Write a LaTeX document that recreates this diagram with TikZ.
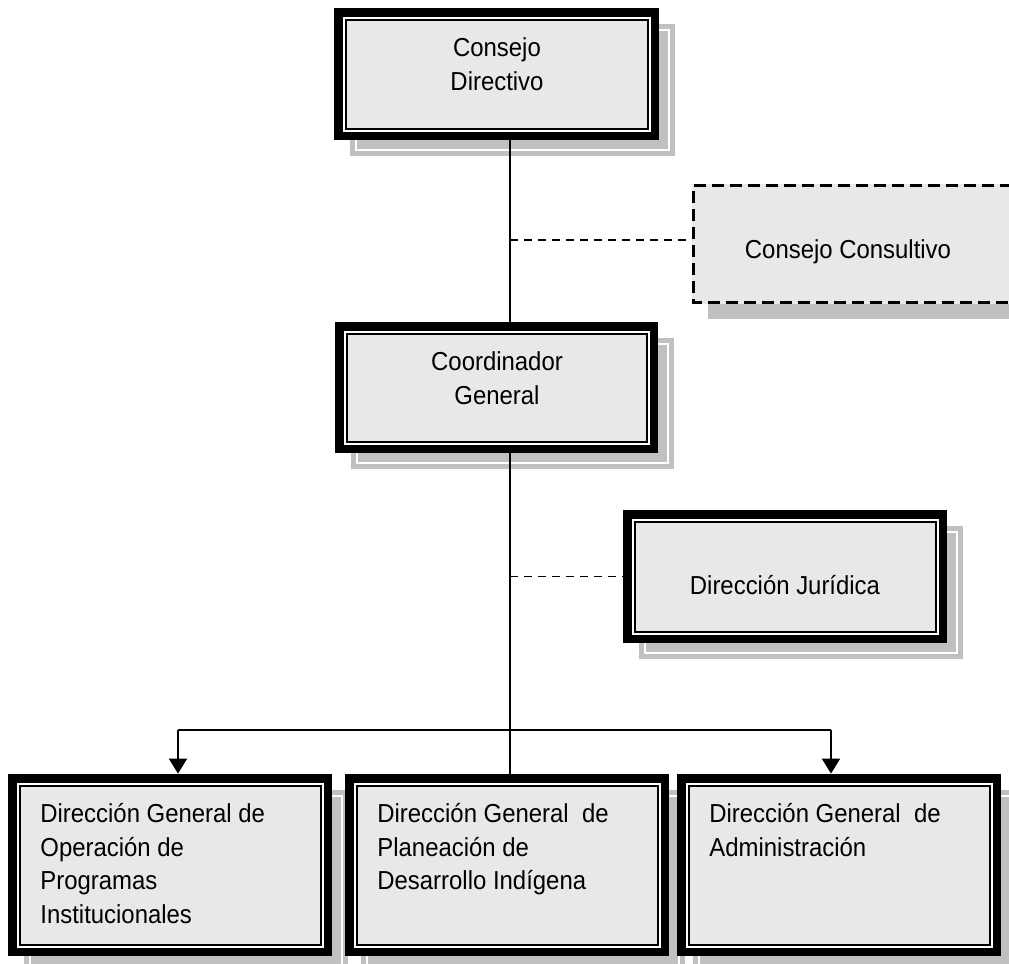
\documentclass[tikz,border=0pt]{standalone}
\usepackage{fontspec}
\setmainfont{Liberation Sans}[FakeStretch=0.92]
\usetikzlibrary{arrows.meta,fit}
\definecolor{boxfill}{HTML}{E8E8E8}
\definecolor{shadowgray}{HTML}{C0C0C0}
\tikzset{
  txt/.style={font=\fontsize{13}{16.75}\selectfont, inner sep=0pt, text=black},
  frame/.style={fit={#1}, inner sep=0pt, draw=none},
  link/.style={line width=1pt, draw=black},
  dashlink/.style={line width=0.75pt, draw=black, dash pattern=on 4pt off 3pt},
  arrowlink/.style={line width=1pt, draw=black, -{Triangle[width=9pt,length=7.5pt]}},
}
% shadow of a box: x1 y1 x2 y2
\newcommand\boxshadow[4]{%
  \fill[shadowgray] (#1+16,#2+16) rectangle (#3+16,#4+16);
  \draw[white,line width=0.6pt] (#1+22,#2+22) rectangle (#3+10,#4+10);
}
% framed box: name x1 y1 x2 y2
\newcommand\framedbox[5]{%
  \fill[black] (#2,#3) rectangle (#4,#5);
  \fill[white] (#2+8.5,#3+8.5) rectangle (#4-8.5,#5-8.5);
  \fill[black] (#2+10.5,#3+10.5) rectangle (#4-10.5,#5-10.5);
  \fill[boxfill] (#2+12.5,#3+12.5) rectangle (#4-12.5,#5-12.5);
  \node[frame={(#2,#3) (#4,#5)}] (#1) {};
}
\begin{document}
\begin{tikzpicture}[x=0.5pt,y=-0.5pt]
\useasboundingbox (0,0) rectangle (1009,964);
\clip (0,0) rectangle (1009,964);
\fill[white] (0,0) rectangle (1009,964);

% shadows
\boxshadow{334}{8}{659}{140}
\boxshadow{335}{322}{658}{453}
\boxshadow{623}{510}{947}{643}
\boxshadow{8}{774}{332}{956}
\boxshadow{345}{774}{669}{956}
\boxshadow{677}{774}{1001}{956}
\fill[shadowgray] (708,200) rectangle (1040,319);

% boxes
\framedbox{cd}{334}{8}{659}{140}
\framedbox{cg}{335}{322}{658}{453}
\framedbox{dj}{623}{510}{947}{643}
\framedbox{b1}{8}{774}{332}{956}
\framedbox{b2}{345}{774}{669}{956}
\framedbox{b3}{677}{774}{1001}{956}

% consejo consultivo (dashed)
\fill[boxfill] (692,184) rectangle (1030,304);
\draw[line width=1.5pt, dash pattern=on 6pt off 3pt] (1030,185.5) -- (693.5,185.5) -- (693.5,302.5) -- (1030,302.5);
\node[frame={(692,184) (1030,304)}] (cc) {};

% texts
\node[txt, align=center] (cdt) at (497,64) {Consejo\\Directivo};
\node[txt, align=center] (cgt) at (497,378) {Coordinador\\General};
\node[txt] (cct) at (848,252) {Consejo Consultivo};
\node[txt] (djt) at (785,585) {Dirección Jurídica};
\node[txt, align=left, anchor=north west] (b1t) at (40,803) {Dirección General de\\Operación de\\Programas\\Institucionales};
\node[txt, align=left, anchor=north west] (b2t) at (377,803) {Dirección General\ \ de\\Planeación de\\Desarrollo Indígena};
\node[txt, align=left, anchor=north west] (b3t) at (709,803) {Dirección General\ \ de\\Administración};

% connectors
\coordinate (spine) at (510,0);
\coordinate (busL) at (178,730);
\coordinate (busR) at (831,730);
\coordinate (ccj) at (692,240);
\draw[link] (cd.south -| spine) -- (cg.north -| spine);
\draw[link] (cg.south -| spine) -- (b2.north -| spine);
\draw[dashlink] (ccj -| spine) -- (ccj);
\draw[dashlink] (dj.west -| spine) -- (dj.west);
\draw[link] (busL) -- (busR);
\draw[arrowlink] (busL) -- (busL |- b1.north);
\draw[arrowlink] (busR) -- (busR |- b3.north);
\end{tikzpicture}
\end{document}
